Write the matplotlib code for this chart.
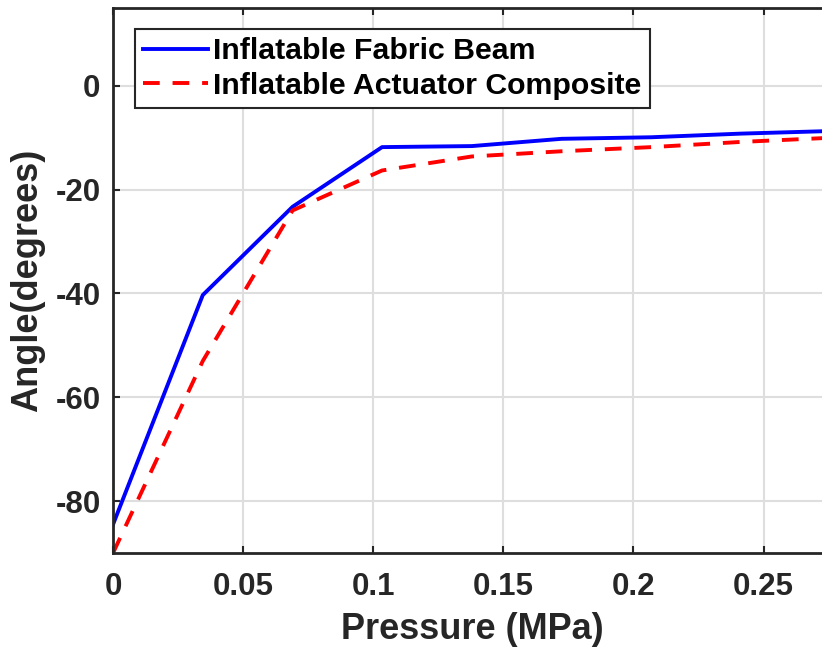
import matplotlib
matplotlib.use("Agg")
import matplotlib.pyplot as plt

plt.rcParams['font.family'] = ['Liberation Sans', 'DejaVu Sans']
plt.rcParams['font.weight'] = 'bold'
plt.rcParams['axes.unicode_minus'] = False

# pressure in MPa (5 psi steps)
pressure = [0.0, 0.0345, 0.0690, 0.1034, 0.1379, 0.1724, 0.2069, 0.2413, 0.2758]
fabric_beam = [-84.5, -40.3, -23.3, -11.8, -11.6, -10.2, -9.9, -9.2, -8.7]
actuator_comp = [-90.0, -53.0, -24.0, -16.3, -13.6, -12.6, -11.8, -10.8, -10.0]

xticks = [0, 0.05, 0.1, 0.15, 0.2, 0.25]
xticklabels = ['0', '0.05', '0.1', '0.15', '0.2', '0.25']
yticks = [-80, -60, -40, -20, 0]

dark = '#262626'

fig = plt.figure(figsize=(8.22, 6.51), dpi=100)
ax = fig.add_axes([0.1375, 0.1505, 0.873, 0.8372])

ax.plot(pressure, fabric_beam, color=(0, 0, 1), lw=2.8, label='Inflatable Fabric Beam')
ax.plot(pressure, actuator_comp, color=(1, 0, 0), lw=2.8, dashes=(4.3, 3.3),
        label='Inflatable Actuator Composite')

ax.set_xlim(0, 0.2758)
ax.set_ylim(-90, 15)
ax.set_xticks(xticks)
ax.set_xticklabels(xticklabels)
ax.set_yticks(yticks)
ax.grid(True, color='#dedede', lw=1.5)
ax.set_axisbelow(True)

for s in ax.spines.values():
    s.set_color(dark)
    s.set_linewidth(2.0)
ax.tick_params(direction='in', length=5, width=1.5, color=dark, labelcolor=dark,
               labelsize=22.5, top=True, right=True)
ax.tick_params(axis='x', pad=14)
ax.tick_params(axis='y', pad=9)
for lab in ax.get_xticklabels() + ax.get_yticklabels():
    lab.set_fontweight('bold')

ax.set_xlabel('Pressure (MPa)', fontsize=26, fontweight='bold', color=dark, labelpad=7)
ax.set_ylabel('Angle(degrees)', fontsize=26, fontweight='bold', color=dark, labelpad=7)

leg = ax.legend(loc='upper left', bbox_to_anchor=(0.0307, 0.9615), borderaxespad=0,
                fontsize=21.8, fancybox=False, framealpha=1, edgecolor=dark,
                handlelength=2.15, handletextpad=0.17, labelspacing=0.22,
                borderpad=0.27)
leg.get_frame().set_linewidth(1.5)
for t in leg.get_texts():
    t.set_fontweight('bold')
    t.set_color('black')

fig.savefig('out.png', dpi=100)
